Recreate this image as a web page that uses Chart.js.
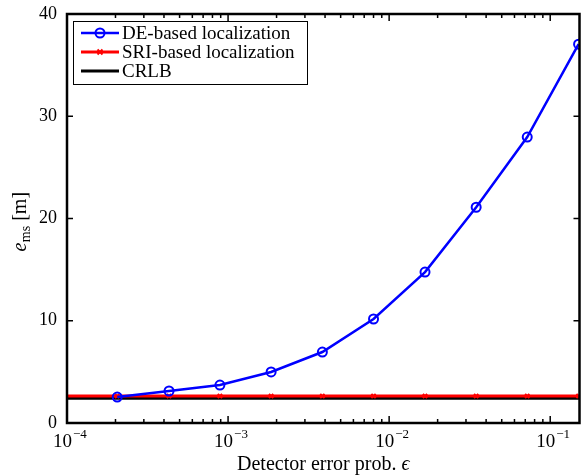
<!DOCTYPE html>
<html>
<head>
<meta charset="utf-8">
<script src="https://cdn.jsdelivr.net/npm/chart.js@4.4.0/dist/chart.umd.min.js"></script>
<style>
  html, body { margin: 0; padding: 0; background: #fff; }
</style>
</head>
<body>
<canvas id="rmsChart" width="586" height="476"></canvas>
<script>
// data
const errProb = [2.05e-4, 4.3e-4, 8.9e-4, 1.85e-3, 3.85e-3, 8.0e-3, 1.67e-2, 3.47e-2, 7.2e-2, 0.15];
const deRms = [2.54, 3.13, 3.71, 4.99, 6.94, 10.17, 14.76, 21.1, 27.96, 37.05];
const sriProb = [1e-4, 2.05e-4, 4.3e-4, 8.9e-4, 1.85e-3, 3.85e-3, 8.0e-3, 1.67e-2, 3.47e-2, 7.2e-2, 0.15];
const sriRms = [2.64, 2.64, 2.64, 2.64, 2.64, 2.64, 2.64, 2.64, 2.64, 2.64, 2.64];
const crlbProb = [1e-4, 0.152];
const crlbRms = [2.42, 2.42];
const yTicks = [0, 10, 20, 30, 40];
const xTickExp = [-4, -3, -2, -1];
const seriesNames = ['DE-based localization', 'SRI-based localization', 'CRLB'];

const SERIF = '"Liberation Serif", "Times New Roman", serif';

function toPoints(xs, ys) {
  return xs.map((x, i) => ({ x: x, y: ys[i] }));
}

/* =========================
   AXES, FRAME, LEGEND
 ========================= */
const matlabAxes = {
  id: 'matlabAxes',
  afterDraw(chart) {
    const { ctx, chartArea: a, scales: { x, y } } = chart;
    ctx.save();
    ctx.strokeStyle = '#000';
    ctx.fillStyle = '#000';

    // ticks
    ctx.lineWidth = 1.5;
    yTicks.forEach(v => {
      const py = y.getPixelForValue(v);
      ctx.beginPath();
      ctx.moveTo(a.left, py); ctx.lineTo(a.left + 6, py);
      ctx.moveTo(a.right, py); ctx.lineTo(a.right - 6, py);
      ctx.stroke();
    });
    xTickExp.forEach(e => {
      for (let m = 1; m <= 9; m++) {
        const val = m * Math.pow(10, e);
        if (val > x.max) break;
        const px = x.getPixelForValue(val);
        const len = m === 1 ? 7 : 4;
        ctx.beginPath();
        ctx.moveTo(px, a.bottom); ctx.lineTo(px, a.bottom - len);
        ctx.moveTo(px, a.top); ctx.lineTo(px, a.top + len);
        ctx.stroke();
      }
    });

    // frame
    ctx.lineWidth = 2.5;
    ctx.strokeRect(a.left, a.top, a.right - a.left, a.bottom - a.top);

    // y tick labels
    ctx.font = '18px ' + SERIF;
    ctx.textAlign = 'right';
    ctx.textBaseline = 'middle';
    yTicks.forEach(v => {
      ctx.fillText(String(v), a.left - 10, y.getPixelForValue(v));
    });

    // x tick labels 10^e
    ctx.textAlign = 'left';
    ctx.textBaseline = 'alphabetic';
    xTickExp.forEach(e => {
      const px = x.getPixelForValue(Math.pow(10, e));
      ctx.font = '19px ' + SERIF;
      const start = px - 14;
      ctx.fillText('10', start, 447);
      const w = ctx.measureText('10').width;
      ctx.font = '13px ' + SERIF;
      ctx.fillText('\u2212' + Math.abs(e), start + w + 1, 438);
    });

    // x title
    ctx.font = '20px ' + SERIF;
    const xt1 = 'Detector error prob. ';
    ctx.font = '20px ' + SERIF;
    const w1 = ctx.measureText(xt1).width;
    ctx.font = 'italic 20px ' + SERIF;
    const w2 = ctx.measureText('\u03F5').width;
    const xs = (a.left + a.right) / 2 - (w1 + w2) / 2;
    ctx.font = '20px ' + SERIF;
    ctx.fillText(xt1, xs, 470);
    ctx.font = 'italic 20px ' + SERIF;
    ctx.fillText('\u03F5', xs + w1, 470);

    // y title, rotated
    ctx.save();
    ctx.translate(26, 222);
    ctx.rotate(-Math.PI / 2);
    ctx.font = 'italic 20px ' + SERIF;
    const we = ctx.measureText('e').width;
    ctx.font = '14px ' + SERIF;
    const wms = ctx.measureText('ms').width;
    ctx.font = '20px ' + SERIF;
    const wm = ctx.measureText(' [m]').width;
    let tx = -(we + wms + wm) / 2;
    ctx.font = 'italic 20px ' + SERIF;
    ctx.fillText('e', tx, 0);
    tx += we + 0.5;
    ctx.font = '14px ' + SERIF;
    ctx.fillText('ms', tx, 4);
    tx += wms;
    ctx.font = '20px ' + SERIF;
    ctx.fillText(' [m]', tx, 0);
    ctx.restore();

    // legend
    const lx = 73, ly = 21, lw = 234, lh = 63;
    ctx.fillStyle = '#fff';
    ctx.fillRect(lx, ly, lw, lh);
    ctx.lineWidth = 1;
    ctx.strokeStyle = '#000';
    ctx.strokeRect(lx + 0.5, ly + 0.5, lw, lh);

    const rows = [33, 52, 71];
    const colors = ['#0000ff', '#ff0000', '#000000'];
    rows.forEach((ry, i) => {
      ctx.strokeStyle = colors[i];
      ctx.lineWidth = i === 0 ? 2.5 : 3;
      ctx.beginPath();
      ctx.moveTo(81, ry); ctx.lineTo(119, ry);
      ctx.stroke();
      if (i === 0) {
        ctx.lineWidth = 2;
        ctx.beginPath();
        ctx.arc(100, ry, 4.5, 0, Math.PI * 2);
        ctx.stroke();
      } else if (i === 1) {
        ctx.lineWidth = 2;
        ctx.beginPath();
        ctx.moveTo(97.5, ry - 2.5); ctx.lineTo(102.5, ry + 2.5);
        ctx.moveTo(97.5, ry + 2.5); ctx.lineTo(102.5, ry - 2.5);
        ctx.stroke();
      }
      ctx.fillStyle = '#000';
      ctx.font = '19px ' + SERIF;
      ctx.textBaseline = 'middle';
      ctx.fillText(seriesNames[i], 122, ry + 1);
    });

    ctx.restore();
  }
};

/* =========================
   CHART
 ========================= */
new Chart(document.getElementById('rmsChart').getContext('2d'), {
  type: 'line',
  data: {
    datasets: [
      {
        label: seriesNames[0],
        data: toPoints(errProb, deRms),
        borderColor: '#0000ff',
        borderWidth: 2.5,
        pointStyle: 'circle',
        pointRadius: 4.5,
        pointBorderWidth: 2,
        pointBorderColor: '#0000ff',
        pointBackgroundColor: 'rgba(0,0,0,0)',
        tension: 0
      },
      {
        label: seriesNames[1],
        data: toPoints(sriProb, sriRms),
        borderColor: '#ff0000',
        borderWidth: 3,
        pointStyle: 'crossRot',
        pointRadius: ctx => (ctx.dataIndex === 0 ? 0 : 3),
        pointBorderWidth: 2,
        pointBorderColor: '#ff0000',
        tension: 0
      },
      {
        label: seriesNames[2],
        data: toPoints(crlbProb, crlbRms),
        borderColor: '#000000',
        borderWidth: 3,
        pointRadius: 0,
        tension: 0
      }
    ]
  },
  options: {
    responsive: false,
    animation: false,
    layout: { padding: { left: 67, right: 4, top: 14, bottom: 53 } },
    plugins: {
      legend: { display: false },
      tooltip: { enabled: false }
    },
    scales: {
      x: { type: 'logarithmic', min: 1e-4, max: 0.152, display: false },
      y: { type: 'linear', min: 0, max: 40, display: false }
    }
  },
  plugins: [matlabAxes]
});
</script>
</body>
</html>
